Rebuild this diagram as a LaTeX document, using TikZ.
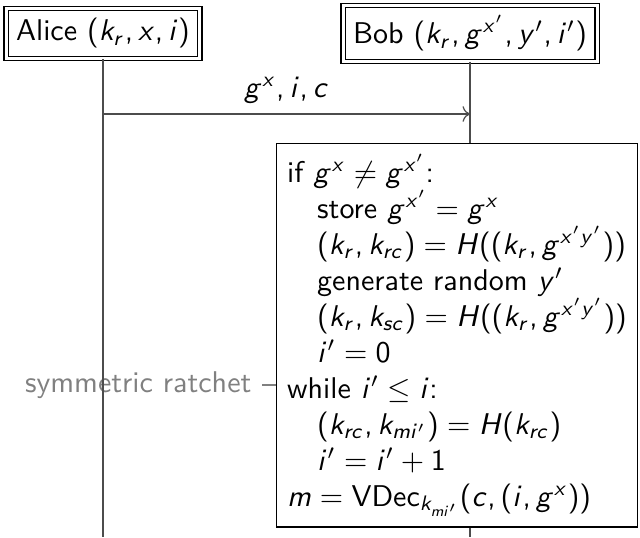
\documentclass[tikz,border=0pt]{standalone}
\usepackage{amsmath,amssymb}
\usetikzlibrary{arrows.meta,positioning,calc}
% sans serif math: letters from slanted cmss, digits and operators from cmss
\SetSymbolFont{operators}{normal}{OT1}{cmss}{m}{n}
\SetSymbolFont{letters}{normal}{OT1}{cmss}{m}{sl}
\DeclareMathSymbol{,}{\mathpunct}{operators}{`,}

\begin{document}
\begin{tikzpicture}[x=0.3333pt, y=-0.3333pt, font=\sffamily,
    party/.style={draw, double, double distance=1pt},
    proc/.style={draw, align=left, inner sep=3.5pt},
    life/.style={draw=black!70},
    note/.style={text=gray, inner sep=3.33pt}]
  \useasboundingbox (0,0) rectangle (640,537);
  \node[party] (alice) at (103,33.5) {Alice $(k_r, x, i)$};
  \node[party] (bob) at (470,33.5) {Bob $(k_r, g^{x'}, y', i')$};
  \node[proc, anchor=north east] (box) at (638,143) {if $g^x \neq g^{x'}$:\\
     \hspace*{1em}store $g^{x'} = g^x$\\
     \hspace*{1em}$(k_r, k_{rc}) = H((k_r, g^{x'y'}))$\\
     \hspace*{1em}generate random $y'$\\
     \hspace*{1em}$(k_r, k_{sc}) = H((k_r, g^{x'y'}))$\\
     \hspace*{1em}$i' = 0$\\
     while $i' \leq i$:\\
     \hspace*{1em}$(k_{rc}, k_{mi'}) = H(k_{rc})$\\
     \hspace*{1em}$i' = i' + 1$\\
     $m = \mathsf{VDec}_{k_{mi'}}(c, (i, g^x))$};
  \node[note, anchor=east] (ratchet) at (262,385) {symmetric ratchet};
  \coordinate (whileline) at (box.west |- ratchet);
  % lifelines
  \coordinate (aliceend) at (alice |- 0,537);
  \coordinate (bobend) at (bob |- 0,537);
  \coordinate (msgfrom) at (alice |- 0,114);
  \coordinate (msgto) at (bob |- 0,114);
  \draw[life] (alice) -- (aliceend);
  \draw[life] (bob) -- (bob |- box.north);
  \draw[life] (bob |- box.south) -- (bobend);
  \draw[life, ->] (msgfrom) -- (msgto) node[midway, above, text=black] {$g^x, i, c$};
  \draw[gray] (ratchet) -- (whileline);
\end{tikzpicture}
\end{document}
